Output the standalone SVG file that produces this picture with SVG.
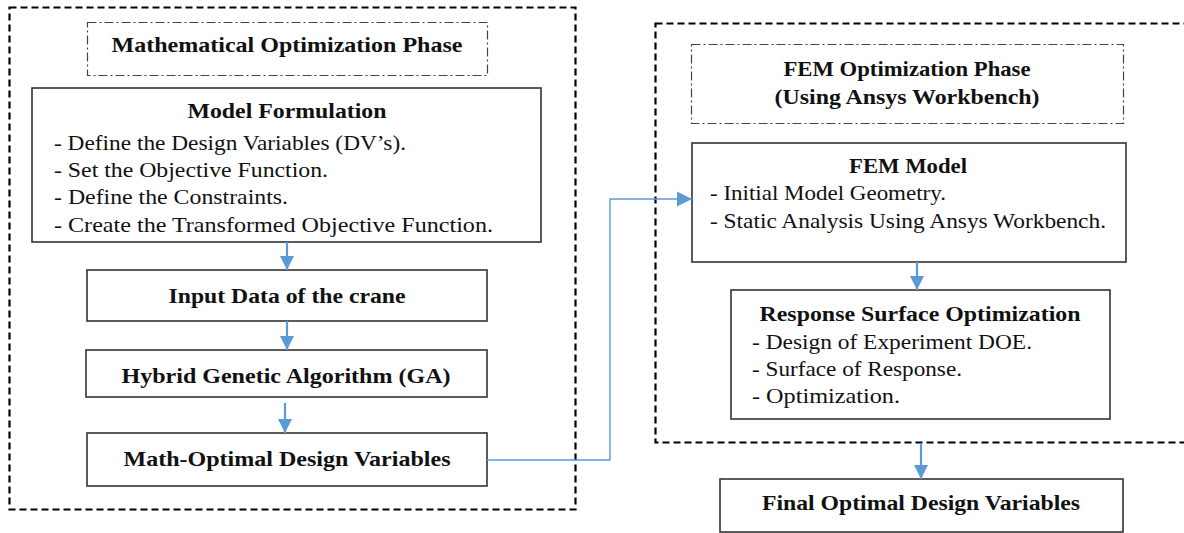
<svg xmlns="http://www.w3.org/2000/svg" width="1184" height="533" viewBox="0 0 1184 533">
<defs>
<style>
.phase{fill:none;stroke:#000;stroke-width:2.2;stroke-dasharray:7 4}
.title{fill:none;stroke:#444;stroke-width:1.2;stroke-dasharray:9 3 2 3}
.box{fill:#fff;stroke:#333;stroke-width:1.6}
.t{font-family:"Liberation Serif","Times New Roman",serif;font-size:22px;fill:#111}
.b{font-family:"Liberation Serif","Times New Roman",serif;font-size:21px;font-weight:bold;fill:#111;text-anchor:middle}
.arr{fill:none;stroke:#5B9BD5;stroke-width:2.2}
.thin{fill:none;stroke:#5B9BD5;stroke-width:1.4}
</style>
<marker id="ah" viewBox="0 0 10 10" refX="10" refY="5" markerWidth="6.5" markerHeight="6.5" markerUnits="strokeWidth" orient="auto">
<path d="M0,0 L10,5 L0,10 z" fill="#5B9BD5"/>
</marker>
<marker id="ah2" viewBox="0 0 10 10" refX="10" refY="5" markerWidth="11" markerHeight="11" markerUnits="strokeWidth" orient="auto">
<path d="M0,0 L10,5 L0,10 z" fill="#5B9BD5"/>
</marker>
</defs>
<rect width="1184" height="533" fill="#fff"/>

<g id="phase-math">
<rect class="phase" x="9.5" y="7.5" width="566" height="502"/>
</g>
<g id="phase-fem">
<rect class="phase" x="655.5" y="23.5" width="540" height="419"/>
</g>

<g id="title-math">
<rect class="title" x="87.5" y="22.5" width="400" height="53"/>
<text class="b" x="287" y="52" textLength="351" lengthAdjust="spacingAndGlyphs">Mathematical Optimization Phase</text>
</g>

<g id="model-formulation">
<rect class="box" x="32" y="88" width="509" height="154"/>
<text class="b" x="287" y="118" textLength="199" lengthAdjust="spacingAndGlyphs">Model Formulation</text>
<text class="t" x="54" y="150" textLength="352" lengthAdjust="spacingAndGlyphs">- Define the Design Variables (DV’s).</text>
<text class="t" x="54" y="177" textLength="274" lengthAdjust="spacingAndGlyphs">- Set the Objective Function.</text>
<text class="t" x="54" y="204" textLength="234" lengthAdjust="spacingAndGlyphs">- Define the Constraints.</text>
<text class="t" x="54" y="232" textLength="439" lengthAdjust="spacingAndGlyphs">- Create the Transformed Objective Function.</text>
</g>

<g id="input-data">
<rect class="box" x="87" y="270" width="400" height="51"/>
<text class="b" x="287" y="303" textLength="237" lengthAdjust="spacingAndGlyphs">Input Data of the crane</text>
</g>

<g id="hybrid-ga">
<rect class="box" x="86" y="350" width="401" height="47"/>
<text class="b" x="286" y="383" textLength="329" lengthAdjust="spacingAndGlyphs">Hybrid Genetic Algorithm (GA)</text>
</g>

<g id="math-optimal">
<rect class="box" x="87" y="433" width="400" height="53"/>
<text class="b" x="287" y="466" textLength="327" lengthAdjust="spacingAndGlyphs">Math-Optimal Design Variables</text>
</g>

<g id="title-fem">
<rect class="title" x="691.5" y="44.5" width="432" height="79"/>
<text class="b" x="907" y="76" textLength="247" lengthAdjust="spacingAndGlyphs">FEM Optimization Phase</text>
<text class="b" x="907" y="104" textLength="265" lengthAdjust="spacingAndGlyphs">(Using Ansys Workbench)</text>
</g>

<g id="fem-model">
<rect class="box" x="692" y="143" width="434" height="119"/>
<text class="b" x="908" y="173" textLength="118" lengthAdjust="spacingAndGlyphs">FEM Model</text>
<text class="t" x="710" y="200" textLength="236" lengthAdjust="spacingAndGlyphs">- Initial Model Geometry.</text>
<text class="t" x="710" y="228" textLength="396" lengthAdjust="spacingAndGlyphs">- Static Analysis Using Ansys Workbench.</text>
</g>

<g id="response-surface">
<rect class="box" x="731" y="290" width="379" height="129"/>
<text class="b" x="920" y="321" textLength="321" lengthAdjust="spacingAndGlyphs">Response Surface Optimization</text>
<text class="t" x="752" y="349" textLength="280" lengthAdjust="spacingAndGlyphs">- Design of Experiment DOE.</text>
<text class="t" x="752" y="376" textLength="210" lengthAdjust="spacingAndGlyphs">- Surface of Response.</text>
<text class="t" x="752" y="403" textLength="148" lengthAdjust="spacingAndGlyphs">- Optimization.</text>
</g>

<g id="final-optimal">
<rect class="box" x="720" y="479" width="403" height="53"/>
<text class="b" x="921" y="510" textLength="318" lengthAdjust="spacingAndGlyphs">Final Optimal Design Variables</text>
</g>

<g id="connectors">
<line class="arr" x1="287" y1="242" x2="287" y2="270" marker-end="url(#ah)"/>
<line class="arr" x1="287" y1="321" x2="287" y2="350" marker-end="url(#ah)"/>
<line class="arr" x1="285" y1="403" x2="285" y2="433" marker-end="url(#ah)"/>
<polyline class="thin" points="487,460 610,460 610,199 692,199" marker-end="url(#ah2)"/>
<line class="arr" x1="917" y1="262" x2="917" y2="290" marker-end="url(#ah)"/>
<line class="arr" x1="921" y1="443" x2="921" y2="479" marker-end="url(#ah)"/>
</g>
</svg>
